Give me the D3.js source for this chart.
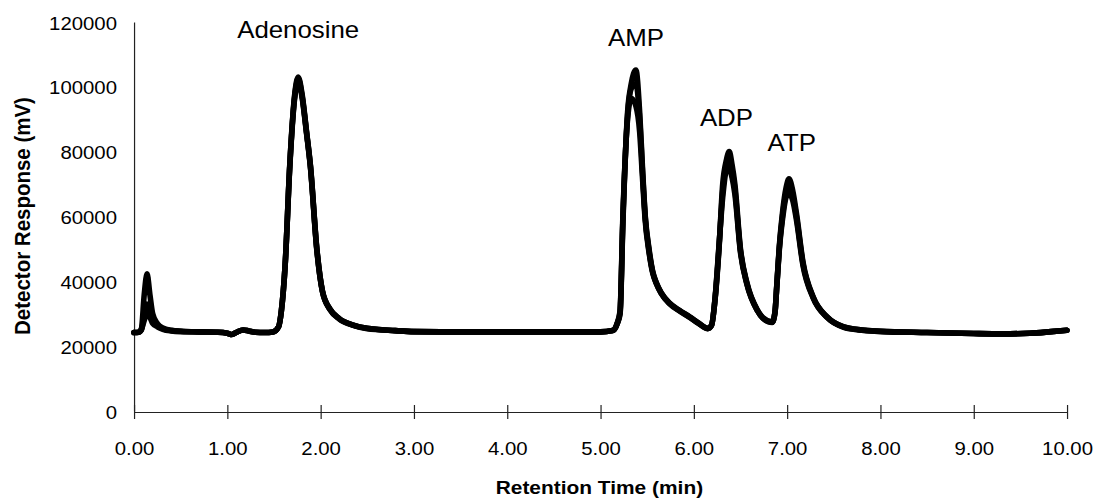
<!DOCTYPE html>
<html>
<head>
<meta charset="utf-8">
<script src="https://cdn.jsdelivr.net/npm/d3@7"></script>
<style>
  html, body { margin: 0; padding: 0; background: #fff; }
  svg { display: block; }
  text { font-family: "Liberation Sans", Arial, Helvetica, sans-serif; fill: #000; }
</style>
</head>
<body>
<svg id="chart"></svg>
<script>
// Retention time (min)
const time = [0, 0.05, 0.08, 0.11, 0.14, 0.17, 0.2, 0.25, 0.31, 0.4, 0.5, 0.7, 0.9, 1.0, 1.05, 1.1, 1.17, 1.23, 1.3, 1.4,
  1.49, 1.55, 1.58, 1.62, 1.67, 1.72, 1.76, 1.8, 1.85, 1.89, 1.96, 2.02, 2.1, 2.2, 2.35, 2.5, 2.8, 3.0, 3.5, 4.0,
  4.5, 5.0, 5.13, 5.18, 5.21, 5.24, 5.29, 5.33, 5.38, 5.42, 5.45, 5.48, 5.52, 5.56, 5.6, 5.65, 5.74, 5.85, 5.96, 6.05,
  6.15, 6.19, 6.23, 6.27, 6.31, 6.35, 6.38, 6.41, 6.44, 6.5, 6.57, 6.68, 6.74, 6.84, 6.87, 6.89, 6.92, 6.95, 6.99, 7.02, 7.06,
  7.1, 7.17, 7.28, 7.43, 7.6, 7.8, 8.0, 8.5, 9.0, 9.3, 9.6, 9.8, 10.0];

// Detector response (mV), three overlaid injections
const run1 = [24200, 24300, 25500, 36000, 42300, 36000, 30000, 27000, 25600, 24900, 24600, 24400, 24300, 24000, 23600, 24300, 25000, 24700, 24300, 24200,
  24400, 26000, 31000, 45000, 76000, 97000, 103000, 98000, 86000, 76000, 50000, 37000, 31500, 28500, 26500, 25500, 24800, 24500, 24400, 24400,
  24400, 24400, 24800, 27000, 30000, 58000, 92000, 101000, 105200, 92000, 75000, 60000, 50000, 43000, 39500, 36500, 33300, 31000, 29000, 27200,
  25500, 26500, 35000, 50000, 70000, 77500, 80000, 76000, 70000, 50000, 39500, 31200, 28800, 27500, 30500, 39000, 52000, 61000, 69000, 71600, 68000,
  61000, 46000, 35200, 29000, 26000, 25000, 24600, 24200, 23900, 23800, 24000, 24400, 24900];

const run2 = [24200, 24300, 25000, 30000, 33000, 31000, 28000, 26500, 25400, 24800, 24600, 24400, 24300, 24000, 23600, 24300, 25000, 24700, 24300, 24200,
  24400, 26000, 31000, 45000, 75500, 96000, 101500, 97000, 85500, 75500, 49500, 36800, 31300, 28400, 26400, 25400, 24800, 24500, 24400, 24400,
  24400, 24400, 24800, 27200, 31000, 60000, 90000, 96500, 94000, 86000, 72000, 58500, 49000, 42500, 39200, 36300, 33100, 30800, 28800, 27000,
  25400, 26400, 35500, 51000, 66000, 74000, 74500, 72000, 67000, 49000, 39000, 31000, 28600, 27300, 30300, 38500, 51000, 59000, 66000, 67000, 65000,
  59000, 45000, 34800, 28800, 25900, 24900, 24500, 24200, 23900, 23800, 24000, 24400, 24900];

const run3 = [24200, 24300, 25200, 28000, 30000, 29000, 27000, 26000, 25200, 24700, 24500, 24400, 24300, 24000, 23600, 24300, 25000, 24700, 24300, 24200,
  24400, 26000, 31000, 45000, 76000, 96500, 102500, 97500, 85800, 75800, 49800, 36900, 31400, 28500, 26500, 25500, 24800, 24500, 24400, 24400,
  24400, 24400, 24800, 27000, 30500, 59000, 91000, 99500, 101000, 90000, 74000, 59500, 49500, 42800, 39300, 36400, 33200, 30900, 28900, 27100,
  25500, 26400, 35200, 50500, 68000, 76000, 77500, 74500, 68500, 49500, 39200, 31100, 28700, 27400, 30400, 38800, 51500, 60000, 67500, 69500, 66500,
  60000, 45500, 35000, 28900, 26000, 25000, 24600, 24200, 23900, 23800, 24000, 24400, 24900];

const xTicks = [0, 1, 2, 3, 4, 5, 6, 7, 8, 9, 10];
const yTicks = [0, 20000, 40000, 60000, 80000, 100000, 120000];
const peakNames = ["Adenosine", "AMP", "ADP", "ATP"];
const peakTimes = [1.76, 5.38, 6.35, 7.05];
const peakLabelValues = [115000, 112500, 87800, 80100];

// Layout (view box units; drawing is stretched horizontally by 1.1)
const W = 1095, H = 498, SX = 1.1;
const VW = W / SX;
const x0 = 134 / SX, x1 = 1067 / SX;
const yBottom = 411, yTop = 22;

const svg = d3.select("#chart")
  .attr("width", W).attr("height", H)
  .attr("viewBox", `0 0 ${VW} ${H}`)
  .attr("preserveAspectRatio", "none");

const x = d3.scaleLinear().domain([0, 10]).range([x0, x1]);
const y = d3.scaleLinear().domain([0, 120000]).range([yBottom, yTop]);

// X axis
const gx = svg.append("g").attr("transform", `translate(0,${yBottom + 1})`)
  .call(d3.axisBottom(x).tickValues(xTicks).tickFormat(d3.format(".2f"))
    .tickSizeInner(7).tickSizeOuter(0).tickPadding(23));
gx.select(".domain").attr("stroke", "#222").attr("stroke-width", 1.2).attr("vector-effect", "non-scaling-stroke");
gx.selectAll(".tick line").attr("y1", -7).attr("y2", 7).attr("stroke", "#222").attr("stroke-width", 1.2)
  .attr("vector-effect", "non-scaling-stroke");
gx.selectAll(".tick text").attr("font-size", 18.5).attr("fill", "#000")
  .style("font-family", '"Liberation Sans", Arial, sans-serif');

// Y axis
const gy = svg.append("g").attr("transform", `translate(${x0},0)`)
  .call(d3.axisLeft(y).tickValues(yTicks).tickFormat(d3.format("d"))
    .tickSizeInner(0).tickSizeOuter(0).tickPadding(15.5));
gy.select(".domain").attr("stroke", "#222").attr("stroke-width", 1.2).attr("vector-effect", "non-scaling-stroke");
gy.selectAll(".tick text").attr("font-size", 18.5).attr("fill", "#000").attr("dy", "0.38em")
  .style("font-family", '"Liberation Sans", Arial, sans-serif');

// Traces
const line = d3.line().x((d, i) => x(time[i])).y(d => y(d)).curve(d3.curveMonotoneX);
const runs = [run2, run3, run1];
svg.append("g").selectAll("path").data(runs).join("path")
  .attr("d", d => line(d))
  .attr("fill", "none")
  .attr("stroke", "#000")
  .attr("stroke-width", 5.6)
  .attr("stroke-linejoin", "round")
  .attr("stroke-linecap", "round")
  .attr("vector-effect", "non-scaling-stroke");

// Peak labels
svg.append("g").selectAll("text").data(peakNames).join("text")
  .attr("x", (d, i) => x(peakTimes[i]))
  .attr("y", (d, i) => y(peakLabelValues[i]))
  .attr("text-anchor", "middle")
  .attr("font-size", 23.5)
  .text(d => d);

// Axis titles
svg.append("text")
  .attr("x", (x0 + x1) / 2 - 1)
  .attr("y", 494)
  .attr("text-anchor", "middle")
  .attr("font-size", 19)
  .attr("font-weight", "bold")
  .text("Retention Time (min)");

svg.append("text")
  .attr("transform", `translate(${30 / SX},216) rotate(-90)`)
  .attr("text-anchor", "middle")
  .attr("font-size", 20.5)
  .attr("font-weight", "bold")
  .text("Detector Response (mV)");
</script>
</body>
</html>
